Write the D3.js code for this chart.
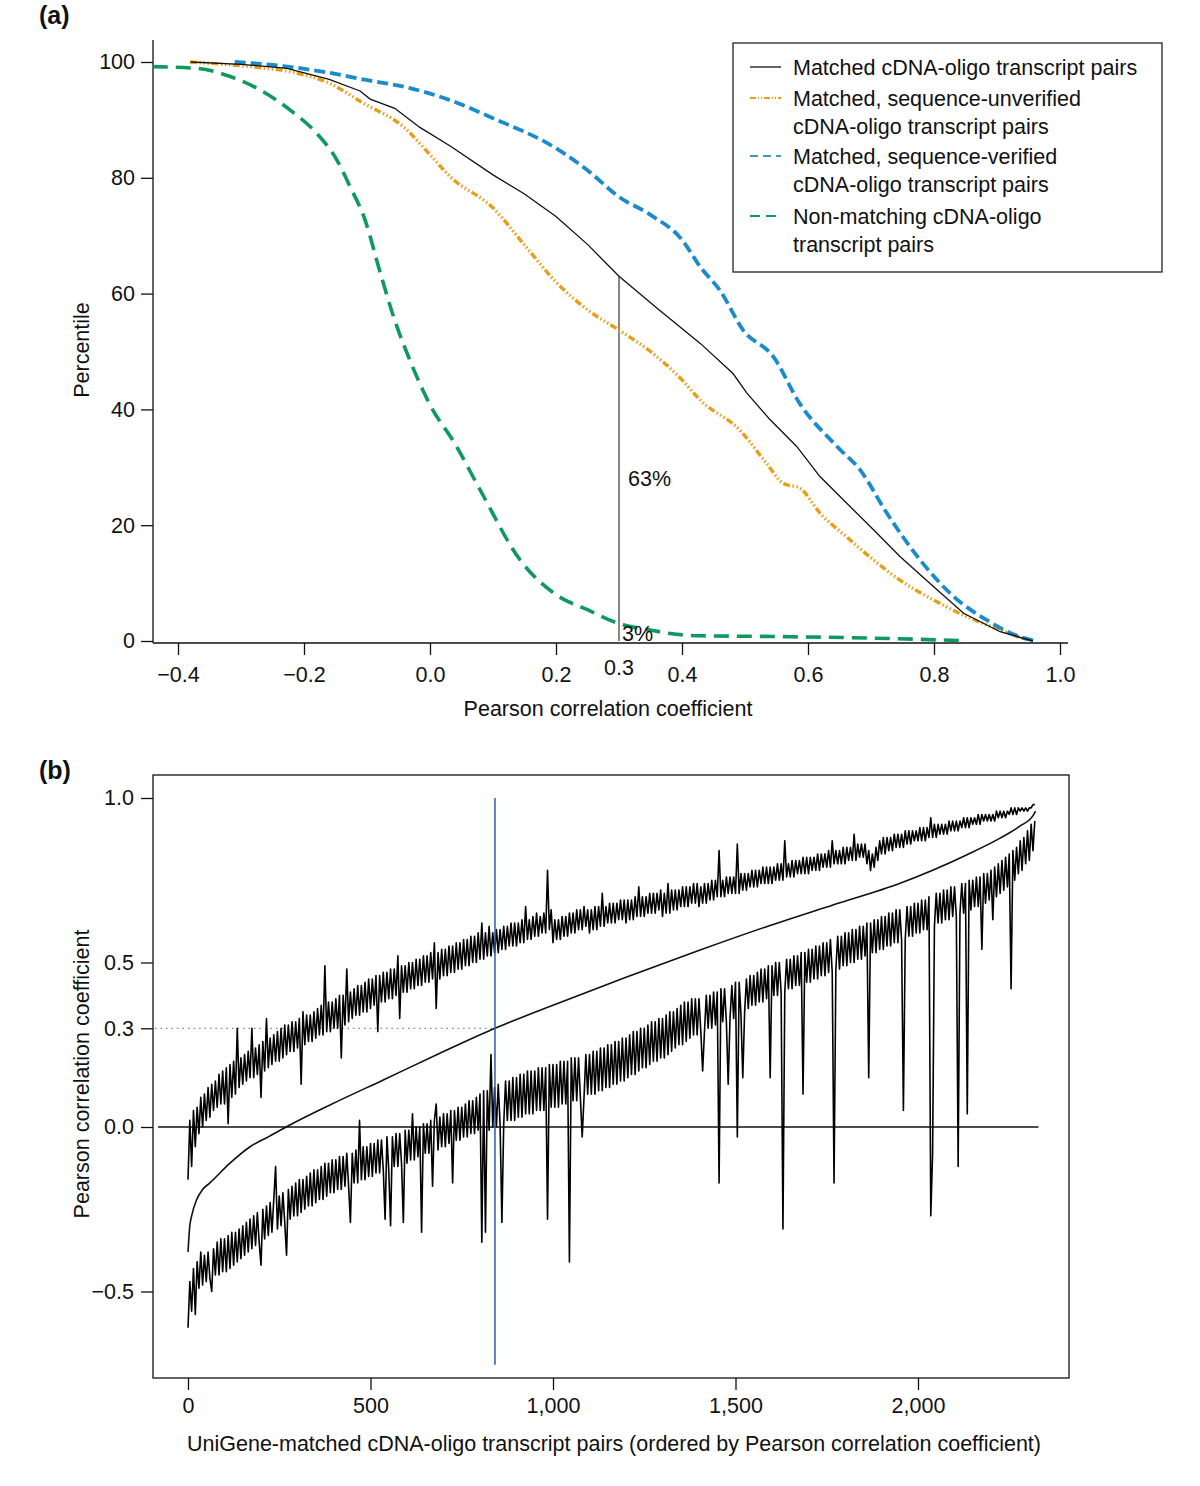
<!DOCTYPE html>
<html><head><meta charset="utf-8">
<script src="https://cdn.jsdelivr.net/npm/d3@7"></script>
<style>body{margin:0;background:#fff}text{font-family:"Liberation Sans",Arial,sans-serif;fill:#111}</style>
</head><body>
<svg id="c" width="1200" height="1486"></svg>
<script>
// ---------- Panel (a) data: percentile vs Pearson r ----------
const matchedX   = [-0.38,-0.30,-0.227,-0.16,-0.111,-0.095,-0.056,-0.016,0.032,0.1,0.15,0.2,0.25,0.3,0.36,0.429,0.481,0.503,0.540,0.582,0.619,0.656,0.704,0.746,0.799,0.847,0.905,0.957];
const matchedY   = [100,99.6,98.9,97.0,95.0,93.6,92.0,88.7,85.5,80.5,77.2,73.3,68.5,63.0,57.5,51.4,46.2,42.8,38.2,33.6,28.4,24.4,19.2,14.6,9.4,4.8,1.6,0];
const unverX     = [-0.381,-0.286,-0.222,-0.159,-0.106,-0.042,0.0,0.032,0.1,0.15,0.2,0.25,0.3,0.35,0.4,0.429,0.492,0.534,0.561,0.587,0.619,0.661,0.704,0.746,0.799,0.852,0.905,0.947];
const unverY     = [100,99.2,98.3,96.3,92.9,88.8,84.0,80.2,74.8,68.4,62.0,57.2,53.7,50.0,45.1,41.6,36.4,30.7,27.2,26.4,22.1,18.0,14.0,10.5,7.1,4.2,1.9,0.2];
const verX       = [-0.31,-0.233,-0.169,-0.101,-0.032,0.032,0.1,0.2,0.25,0.3,0.35,0.4,0.429,0.460,0.497,0.545,0.587,0.646,0.683,0.725,0.778,0.831,0.884,0.937,0.963];
const verY       = [100,99.3,98.3,96.9,95.5,93.4,90.3,85.1,81.3,76.7,73.6,69.3,64.6,60.6,53.7,49.1,41.0,33.6,29.5,22.1,14.0,7.7,3.6,0.7,0];
const nonX       = [-0.44,-0.37,-0.317,-0.27,-0.222,-0.18,-0.148,-0.127,-0.103,-0.08,-0.056,-0.032,0.0,0.04,0.08,0.143,0.2,0.25,0.3,0.349,0.381,0.429,0.524,0.7,0.849];
const nonY       = [99.2,98.9,97.5,95.2,91.7,87.7,83.1,78.5,72.7,64,55.4,48.5,40.8,34,26,14,8,5.4,3,1.9,1.3,0.9,0.8,0.5,0.05];
const aXTicks    = [-0.4,-0.2,0.0,0.2,0.4,0.6,0.8,1.0];
const aYTicks    = [0,20,40,60,80,100];
const cutoffR    = 0.3;
const cutoffMatched = 63;
const cutoffNon  = 3;
const legendLabels = [
  ["Matched cDNA-oligo transcript pairs"],
  ["Matched, sequence-unverified","cDNA-oligo transcript pairs"],
  ["Matched, sequence-verified","cDNA-oligo transcript pairs"],
  ["Non-matching cDNA-oligo","transcript pairs"]
];

// ---------- Panel (b) data ----------
const bXTicks = [0,500,1000,1500,2000];
const bYTicks = [-0.5,0.0,0.3,0.5,1.0];
const cutoffIndex = 841;
const sortedIdx = [0,5,10,24,40,60,115,170,220,279,389,535,690,841,1000,1200,1403,1585,1767,1951,2133,2225,2280,2316,2322];
const sortedR   = [-0.38,-0.30,-0.27,-0.22,-0.19,-0.17,-0.11,-0.06,-0.03,0.006,0.067,0.143,0.224,0.30,0.37,0.455,0.538,0.609,0.675,0.741,0.827,0.878,0.915,0.948,0.96];
// upper noisy trace (sampled every 5 pairs)
const upperR = [
-0.16,0.02,-0.12,0.05,-0.06,0.06,-0.02,0.09,0.00,0.10,0.02,0.12,0.03,0.13,0.05,0.14,0.06,0.16,0.07,0.17,
0.07,0.18,0.01,0.19,0.09,0.20,0.10,0.30,0.12,0.21,0.13,0.22,0.14,0.23,0.15,0.30,0.15,0.24,0.16,0.25,
0.09,0.26,0.17,0.33,0.18,0.27,0.19,0.28,0.20,0.29,0.20,0.30,0.21,0.31,0.22,0.31,0.23,0.32,0.23,0.32,
0.24,0.33,0.13,0.35,0.25,0.34,0.26,0.34,0.26,0.35,0.27,0.36,0.28,0.37,0.28,0.49,0.29,0.38,0.29,0.38,
0.30,0.39,0.30,0.40,0.21,0.40,0.31,0.48,0.32,0.41,0.33,0.42,0.34,0.43,0.34,0.43,0.35,0.44,0.35,0.45,
0.36,0.45,0.37,0.46,0.29,0.46,0.38,0.47,0.38,0.47,0.39,0.48,0.39,0.48,0.40,0.52,0.33,0.49,0.41,0.49,
0.41,0.50,0.42,0.50,0.42,0.51,0.43,0.51,0.43,0.52,0.44,0.52,0.44,0.53,0.45,0.56,0.36,0.53,0.45,0.54,
0.46,0.54,0.46,0.55,0.47,0.55,0.47,0.56,0.48,0.56,0.48,0.57,0.49,0.57,0.49,0.58,0.50,0.58,0.50,0.59,
0.51,0.62,0.51,0.59,0.52,0.61,0.52,0.59,0.53,0.60,0.53,0.60,0.54,0.61,0.54,0.61,0.55,0.62,0.55,0.62,
0.55,0.62,0.56,0.63,0.56,0.67,0.57,0.63,0.57,0.64,0.58,0.65,0.58,0.64,0.59,0.65,0.59,0.78,0.60,0.66,
0.56,0.63,0.57,0.63,0.57,0.64,0.58,0.64,0.58,0.65,0.59,0.65,0.59,0.66,0.60,0.66,0.60,0.67,0.61,0.66,
0.59,0.66,0.60,0.67,0.60,0.67,0.61,0.71,0.61,0.67,0.62,0.68,0.62,0.68,0.62,0.68,0.63,0.69,0.63,0.69,
0.62,0.69,0.63,0.69,0.63,0.70,0.64,0.73,0.64,0.70,0.64,0.70,0.65,0.71,0.65,0.71,0.65,0.71,0.66,0.72,
0.64,0.71,0.65,0.74,0.65,0.72,0.66,0.72,0.66,0.72,0.67,0.73,0.67,0.73,0.67,0.73,0.68,0.74,0.68,0.74,
0.67,0.73,0.68,0.74,0.68,0.74,0.69,0.75,0.69,0.75,0.70,0.84,0.70,0.75,0.70,0.76,0.71,0.76,0.71,0.76,
0.71,0.86,0.71,0.77,0.72,0.77,0.72,0.77,0.73,0.78,0.73,0.78,0.73,0.78,0.74,0.79,0.74,0.79,0.74,0.79,
0.74,0.79,0.75,0.80,0.75,0.80,0.75,0.87,0.76,0.80,0.76,0.81,0.76,0.81,0.77,0.81,0.77,0.82,0.77,0.82,
0.77,0.82,0.78,0.82,0.78,0.83,0.78,0.83,0.79,0.83,0.79,0.84,0.79,0.87,0.80,0.84,0.80,0.84,0.80,0.85,
0.80,0.85,0.81,0.85,0.81,0.89,0.81,0.86,0.82,0.86,0.82,0.86,0.80,0.84,0.78,0.83,0.79,0.85,0.81,0.87,
0.83,0.88,0.83,0.88,0.84,0.88,0.84,0.89,0.85,0.89,0.85,0.89,0.85,0.90,0.86,0.90,0.86,0.90,0.87,0.90,
0.87,0.91,0.87,0.91,0.87,0.91,0.88,0.94,0.88,0.92,0.88,0.92,0.89,0.92,0.89,0.92,0.89,0.93,0.90,0.93,
0.90,0.93,0.90,0.93,0.91,0.94,0.91,0.94,0.91,0.94,0.92,0.94,0.92,0.95,0.92,0.95,0.93,0.95,0.93,0.95,
0.93,0.95,0.93,0.96,0.94,0.96,0.94,0.96,0.94,0.96,0.95,0.97,0.95,0.97,0.95,0.97,0.96,0.97,0.96,0.97,
0.96,0.97,0.97,0.98,0.98];
// lower noisy trace (sampled every 5 pairs)
const lowerR = [
-0.61,-0.47,-0.56,-0.43,-0.57,-0.41,-0.49,-0.38,-0.48,-0.39,-0.47,-0.38,-0.46,-0.50,-0.37,-0.45,-0.35,-0.45,-0.34,-0.44,
-0.34,-0.44,-0.33,-0.43,-0.32,-0.42,-0.32,-0.41,-0.31,-0.40,-0.30,-0.39,-0.29,-0.38,-0.28,-0.37,-0.27,-0.36,-0.26,-0.35,
-0.42,-0.25,-0.34,-0.24,-0.33,-0.23,-0.32,-0.22,-0.12,-0.31,-0.21,-0.30,-0.20,-0.29,-0.39,-0.19,-0.28,-0.18,-0.27,-0.17,
-0.27,-0.16,-0.26,-0.16,-0.25,-0.15,-0.24,-0.14,-0.24,-0.13,-0.23,-0.13,-0.22,-0.12,-0.22,-0.11,-0.21,-0.11,-0.20,-0.10,
-0.20,-0.10,-0.19,-0.09,-0.19,-0.09,-0.18,-0.08,-0.18,-0.29,-0.08,-0.17,-0.07,-0.17,0.02,-0.16,-0.06,-0.16,-0.06,-0.15,
-0.05,-0.15,-0.05,-0.14,-0.04,-0.14,-0.04,-0.13,-0.28,-0.03,-0.13,-0.30,-0.03,-0.12,-0.02,-0.12,-0.02,-0.11,-0.29,-0.01,
-0.11,-0.01,-0.10,0.04,-0.10,0.00,-0.09,0.00,-0.32,0.01,-0.08,0.01,-0.08,0.02,-0.18,0.02,0.07,-0.07,0.03,-0.06,
0.04,-0.06,0.04,-0.05,0.05,-0.17,0.05,-0.04,0.06,-0.04,0.06,-0.03,0.07,-0.03,0.08,-0.02,0.08,-0.02,0.09,-0.01,
0.10,-0.35,0.11,-0.32,0.11,-0.01,0.22,0.00,0.12,0.00,0.13,0.01,-0.29,0.01,0.14,0.02,0.14,0.02,0.15,0.02,
0.15,0.03,0.16,0.03,0.16,0.04,0.17,0.04,0.17,0.04,0.17,0.05,0.18,0.05,0.18,0.05,0.18,-0.28,0.19,0.06,
0.19,0.06,0.19,0.06,0.20,0.07,0.20,0.07,0.20,-0.41,0.21,0.08,0.21,0.08,0.21,0.09,-0.03,0.09,0.22,0.10,
0.22,0.10,0.23,0.10,0.23,0.11,0.24,0.11,0.24,0.12,0.25,0.12,0.25,0.13,0.26,0.13,0.26,0.14,0.27,0.14,
0.27,0.15,0.28,0.16,0.29,0.16,0.29,0.17,0.30,0.18,0.30,0.18,0.31,0.19,0.32,0.20,0.32,0.20,0.33,0.21,
0.33,0.21,0.34,0.22,0.35,0.23,0.35,0.24,0.36,0.25,0.37,0.25,0.38,0.26,0.38,0.27,0.39,0.28,0.39,0.28,
0.39,0.29,0.17,0.29,0.40,0.30,0.40,0.30,0.41,0.31,0.41,-0.17,0.42,0.32,0.42,0.32,0.13,0.33,0.43,0.33,
0.44,-0.03,0.44,0.34,0.15,0.35,0.45,0.36,0.46,0.37,0.46,0.37,0.47,0.38,0.48,0.38,0.48,0.39,0.49,0.15,
0.49,0.40,0.50,0.40,0.50,0.41,-0.31,0.41,0.51,0.42,0.51,0.42,0.52,0.43,0.52,0.43,0.53,0.10,0.53,0.44,
0.54,0.44,0.54,0.45,0.55,0.45,0.55,0.46,0.56,0.46,0.56,0.47,0.57,0.47,-0.17,0.48,0.58,0.48,0.58,0.49,
0.59,0.49,0.59,0.50,0.60,0.50,0.60,0.51,0.61,0.51,0.61,0.52,0.62,0.15,0.62,0.53,0.63,0.53,0.63,0.54,
0.64,0.54,0.64,0.55,0.65,0.55,0.65,0.56,0.66,0.56,0.66,0.57,0.05,0.57,0.67,0.58,0.67,0.58,0.68,0.59,
0.68,0.59,0.69,0.60,0.69,0.60,0.70,-0.27,-0.08,0.61,0.71,0.62,0.71,0.62,0.72,0.63,0.72,0.63,0.73,0.64,
0.73,0.64,-0.12,0.65,0.74,0.65,0.74,0.04,0.75,0.66,0.75,0.67,0.76,0.67,0.76,0.54,0.77,0.68,0.77,0.69,
0.78,0.63,0.79,0.70,0.80,0.71,0.81,0.72,0.82,0.73,0.83,0.42,0.84,0.75,0.85,0.77,0.87,0.78,0.88,0.80,
0.90,0.81,0.92,0.84,0.93];
const noisyIdx = d3.range(0, 5*upperR.length, 5);

// ---------- Drawing ----------
const svg = d3.select("#c");
const FS = 21.5;
const FF = "Liberation Sans, Arial, sans-serif";

svg.append("text").attr("x",39).attr("y",24).attr("font-size",25).attr("font-weight","bold").text("(a)");
svg.append("text").attr("x",39).attr("y",779).attr("font-size",25).attr("font-weight","bold").text("(b)");

// ===== Panel (a) =====
const ax = d3.scaleLinear().domain([0,1]).range([430,1060]);
const ay = d3.scaleLinear().domain([0,100]).range([641,62]);
const ga = svg.append("g");

ga.append("line").attr("x1",153).attr("x2",1068).attr("y1",643).attr("y2",643).attr("stroke","#111").attr("stroke-width",1.3);
ga.append("line").attr("x1",153).attr("x2",153).attr("y1",40).attr("y2",643).attr("stroke","#111").attr("stroke-width",1.3);

const axB = ga.append("g").attr("transform","translate(0,643)")
  .call(d3.axisBottom(ax).tickValues(aXTicks).tickFormat(d3.format(".1f")).tickSize(12).tickPadding(12));
axB.select(".domain").remove();
const axL = ga.append("g").attr("transform","translate(153,0)")
  .call(d3.axisLeft(ay).tickValues(aYTicks).tickSize(12).tickPadding(6));
axL.select(".domain").remove();

ga.append("text").attr("x",ax(cutoffR)).attr("y",675).attr("text-anchor","middle").attr("font-size",FS).text(d3.format(".1f")(cutoffR));
ga.append("text").attr("x",608).attr("y",716).attr("text-anchor","middle").attr("font-size",FS).text("Pearson correlation coefficient");
ga.append("text").attr("transform","translate(89,350) rotate(-90)").attr("text-anchor","middle").attr("font-size",FS).text("Percentile");

ga.append("line").attr("x1",ax(cutoffR)).attr("x2",ax(cutoffR)).attr("y1",ay(0)).attr("y2",ay(cutoffMatched))
  .attr("stroke","#444").attr("stroke-width",1.3);

const lineA = (xs,ys,curve)=> d3.line().x((d,i)=>ax(xs[i])).y((d,i)=>ay(ys[i])).curve(curve)(xs);
ga.append("path").attr("d",lineA(nonX,nonY,d3.curveMonotoneX)).attr("fill","none").attr("stroke","#0E9A5E").attr("stroke-width",3.6).attr("stroke-dasharray","15,8");
ga.append("path").attr("d",lineA(unverX,unverY,d3.curveMonotoneX)).attr("fill","none").attr("stroke","#E69F1A").attr("stroke-width",3.4).attr("stroke-dasharray","7,2.5,1.5,2.5,1.5,2.5,1.5,2.5");
ga.append("path").attr("d",lineA(verX,verY,d3.curveMonotoneX)).attr("fill","none").attr("stroke","#1A8BCB").attr("stroke-width",3.8).attr("stroke-dasharray","11,5");
ga.append("path").attr("d",lineA(matchedX,matchedY,d3.curveLinear)).attr("fill","none").attr("stroke","#111").attr("stroke-width",1.3);

ga.append("text").attr("x",628).attr("y",486).attr("font-size",FS).text(cutoffMatched+"%");
ga.append("text").attr("x",622).attr("y",641).attr("font-size",FS).text(cutoffNon+"%");

// legend
const lg = ga.append("g");
lg.append("rect").attr("x",733).attr("y",43).attr("width",429).attr("height",229).attr("fill","#fff").attr("stroke","#222").attr("stroke-width",1.3);
const legStyles = [
  {c:"#111",w:1.3,d:null},
  {c:"#E69F1A",w:1.8,d:"6,2,1,2,1,2"},
  {c:"#3A9AD0",w:1.8,d:"8,5"},
  {c:"#0E9A5E",w:2,d:"10,6"}
];
const legLineY = [67,98,156,216];
const legTextY = [[74.5],[105.5,133.5],[163.5,191.5],[223.5,251.5]];
legendLabels.forEach((lines,i)=>{
  const s = legStyles[i];
  lg.append("line").attr("x1",750).attr("x2",781).attr("y1",legLineY[i]).attr("y2",legLineY[i])
    .attr("stroke",s.c).attr("stroke-width",s.w).attr("stroke-dasharray",s.d);
  lines.forEach((t,j)=> lg.append("text").attr("x",793).attr("y",legTextY[i][j]).attr("font-size",FS).text(t));
});

// ===== Panel (b) =====
const bx = d3.scaleLinear().domain([0,2000]).range([188,918]);
const by = d3.scaleLinear().domain([0,1]).range([1127,798]);
const gb = svg.append("g");
gb.append("rect").attr("x",153).attr("y",775).attr("width",916).attr("height",603).attr("fill","none").attr("stroke","#111").attr("stroke-width",1.3);

const bB = gb.append("g").attr("transform","translate(0,1378)")
  .call(d3.axisBottom(bx).tickValues(bXTicks).tickFormat(d3.format(",")).tickSize(12).tickPadding(8));
bB.select(".domain").remove();
const bL = gb.append("g").attr("transform","translate(153,0)")
  .call(d3.axisLeft(by).tickValues(bYTicks).tickFormat(d3.format(".1f")).tickSize(12).tickPadding(7));
bL.select(".domain").remove();

[axB,axL,bB,bL].forEach(g=>{g.selectAll("text").attr("font-size",FS).attr("font-family",FF).attr("fill","#111");
  g.selectAll("line").attr("stroke","#111").attr("stroke-width",1.3);});

gb.append("text").attr("x",614).attr("y",1451).attr("text-anchor","middle").attr("font-size",FS).text("UniGene-matched cDNA-oligo transcript pairs (ordered by Pearson correlation coefficient)");
gb.append("text").attr("transform","translate(89,1074) rotate(-90)").attr("text-anchor","middle").attr("font-size",FS).text("Pearson correlation coefficient");

gb.append("line").attr("x1",bx(-82)).attr("x2",bx(2330)).attr("y1",by(0)).attr("y2",by(0)).attr("stroke","#111").attr("stroke-width",1.5);
gb.append("line").attr("x1",155).attr("x2",bx(cutoffIndex)).attr("y1",by(cutoffR)).attr("y2",by(cutoffR)).attr("stroke","#6d8ea6").attr("stroke-width",1.3).attr("stroke-dasharray","1.5,4");

const lineB = (xs,ys)=> d3.line().x((d,i)=>bx(xs[i])).y((d,i)=>by(ys[i]))(xs);
gb.append("path").attr("d",lineB(noisyIdx,upperR)).attr("fill","none").attr("stroke","#000").attr("stroke-width",1.6).attr("stroke-linejoin","round");
gb.append("path").attr("d",lineB(noisyIdx,lowerR)).attr("fill","none").attr("stroke","#000").attr("stroke-width",1.6).attr("stroke-linejoin","round");
gb.append("path").attr("d",d3.line().x((d,i)=>bx(sortedIdx[i])).y((d,i)=>by(sortedR[i])).curve(d3.curveMonotoneX)(sortedIdx)).attr("fill","none").attr("stroke","#111").attr("stroke-width",1.6);

gb.append("line").attr("x1",bx(cutoffIndex)).attr("x2",bx(cutoffIndex)).attr("y1",by(1.0)).attr("y2",by(-0.723)).attr("stroke","#2A5DA8").attr("stroke-width",1.5);
</script>
</body></html>
